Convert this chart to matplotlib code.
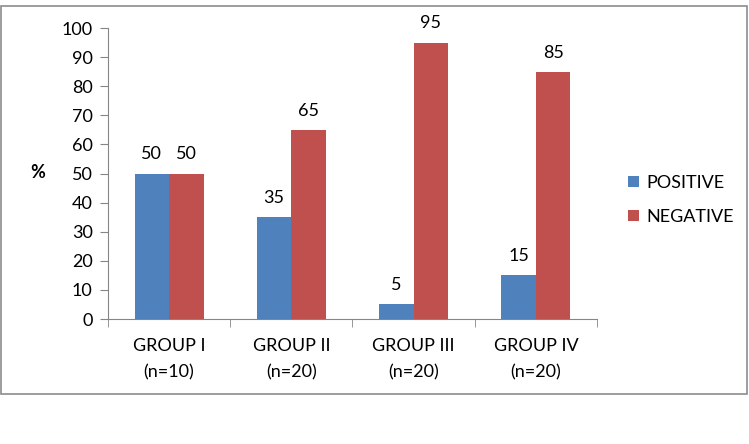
import matplotlib.pyplot as plt
import numpy as np
from matplotlib.patches import Rectangle

groups = ['GROUP I\n(n=10)', 'GROUP II\n(n=20)', 'GROUP III\n(n=20)', 'GROUP IV\n(n=20)']
positive = [50, 35, 5, 15]
negative = [50, 65, 95, 85]

plt.rcParams['font.family'] = ['Lato', 'DejaVu Sans']
fs = 13

fig = plt.figure(figsize=(7.49, 4.44), dpi=100)
ax = fig.add_axes([0.1442, 0.2815, 0.797 - 0.1442, 0.9369 - 0.2815])

# outer frame of the chart
fig.patches.append(Rectangle((0.0015, 1 - 394/444), 0.9955, (394 - 6)/444,
                             transform=fig.transFigure, fill=False,
                             edgecolor='#8c8c8c', linewidth=1.2))

x = np.arange(len(groups))
w = 0.283
b1 = ax.bar(x - w/2, positive, w, color='#4F81BD', label='POSITIVE')
b2 = ax.bar(x + w/2, negative, w, color='#C0504D', label='NEGATIVE')

for bars, vals in [(b1, positive), (b2, negative)]:
    for r, v in zip(bars, vals):
        ax.annotate(str(v), (r.get_x() + r.get_width()/2, v),
                    xytext=(0, 8), textcoords='offset points',
                    ha='center', va='bottom', fontsize=fs)

ax.set_xlim(-0.5, 3.5)
ax.set_ylim(0, 100)
ax.set_yticks(range(0, 101, 10))
ax.set_xticks(x)
ax.set_xticklabels(groups, fontsize=fs, linespacing=1.75)
ax.set_xticks(np.arange(-0.5, 4, 1), minor=True)
ax.tick_params(axis='x', which='major', length=0, pad=14)
ax.tick_params(axis='x', which='minor', length=6, color='#868686')
ax.tick_params(axis='y', length=6, color='#868686', labelsize=fs, pad=5)

for s in ['top', 'right']:
    ax.spines[s].set_visible(False)
for s in ['left', 'bottom']:
    ax.spines[s].set_color('#868686')

ax.set_ylabel('%', rotation=0, fontsize=fs, fontweight='bold', labelpad=0)
ax.yaxis.set_label_coords(-0.143, 0.475)

ax.legend(loc='center left', bbox_to_anchor=(1.03, 0.41), frameon=False,
          fontsize=fs, handlelength=0.6, handleheight=0.6,
          handletextpad=0.4, labelspacing=1.0)

fig.savefig('out.png', dpi=100)
